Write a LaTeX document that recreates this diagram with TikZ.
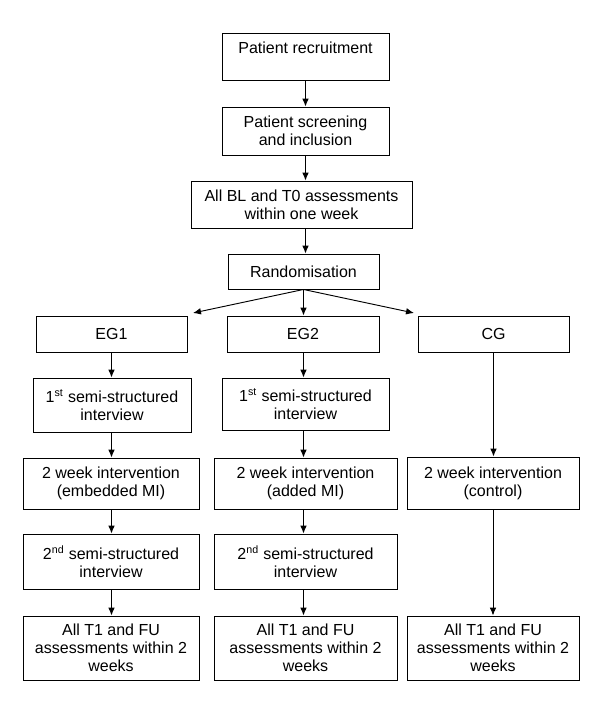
\documentclass[tikz,border=0pt]{standalone}
\usepackage{fontspec}
\setmainfont{Liberation Sans}
\usepackage{tikz}
\usetikzlibrary{arrows.meta}

\tikzset{
  box/.style 2 args={draw, line width=0.7pt, align=center, inner sep=2pt,
    font=\fontsize{12}{13.5}\selectfont,
    minimum width=#1*0.75pt, minimum height=#2*0.75pt},
  flow/.style={->, line width=0.7pt}
}

\begin{document}
\begin{tikzpicture}[x=0.75pt, y=-0.75pt, >={Latex[length=6pt,width=5pt]}]
    \useasboundingbox (0,0) rectangle (600,704);
    % top chain
    \node[box={167}{47}] (recruit) at (305.5,56.5) {Patient recruitment\\\mbox{}};
    \node[box={167}{48}] (screen) at (305.5,131) {Patient screening\\and inclusion};
    \node[box={221}{47}] (bl) at (301.5,204.5) {All BL and T0 assessments\\within one week};
    \node[box={151}{35}] (rand) at (303.5,271.5) {Randomisation};
    % groups
    \node[box={151}{36}] (eg1) at (111.5,334) {EG1};
    \node[box={152}{36}] (eg2) at (303,334) {EG2};
    \node[box={151}{36}] (cg) at (493.5,334) {CG};
    \coordinate (tipeg1) at (193,313);
    \coordinate (tipcg) at (414,313);
    % interviews and interventions
    \node[box={158}{54}] (intva) at (112,405) {1\textsuperscript{st} semi-structured\\interview};
    \node[box={167}{52}] (intvb) at (305.5,404) {1\textsuperscript{st} semi-structured\\interview};
    \node[box={176}{51}] (weeka) at (111,483.5) {2 week intervention\\(embedded MI)};
    \node[box={183}{51}] (weekb) at (305.5,483.5) {2 week intervention\\(added MI)};
    \node[box={172}{52}] (weekc) at (493,483) {2 week intervention\\(control)};
    \node[box={176}{55}] (intvc) at (111,561.5) {2\textsuperscript{nd} semi-structured\\interview};
    \node[box={183}{55}] (intvd) at (305.5,561.5) {2\textsuperscript{nd} semi-structured\\interview};
    % follow up
    \node[box={176}{64}] (fua) at (111,648) {All T1 and FU\\assessments within 2\\weeks};
    \node[box={183}{64}] (fub) at (305.5,648) {All T1 and FU\\assessments within 2\\weeks};
    \node[box={172}{64}] (fuc) at (493,648) {All T1 and FU\\assessments within 2\\weeks};

    \draw[flow] (recruit.south) -- (recruit.south |- screen.north);
    \draw[flow] (screen.south) -- (screen.south |- bl.north);
    \draw[flow] (screen.south |- bl.south) -- (screen.south |- rand.north);
    \draw[flow] (rand.south) -- (tipeg1);
    \draw[flow] (rand.south) -- (rand.south |- eg2.north);
    \draw[flow] (rand.south) -- (tipcg);

    \draw[flow] (eg1.south) -- (eg1.south |- intva.north);
    \draw[flow] (eg1.south |- intva.south) -- (eg1.south |- weeka.north);
    \draw[flow] (eg1.south |- weeka.south) -- (eg1.south |- intvc.north);
    \draw[flow] (eg1.south |- intvc.south) -- (eg1.south |- fua.north);

    \draw[flow] (rand.south |- eg2.south) -- (rand.south |- intvb.north);
    \draw[flow] (rand.south |- intvb.south) -- (rand.south |- weekb.north);
    \draw[flow] (rand.south |- weekb.south) -- (rand.south |- intvd.north);
    \draw[flow] (rand.south |- intvd.south) -- (rand.south |- fub.north);

    \draw[flow] (cg.south) -- (cg.south |- weekc.north);
    \draw[flow] (weekc.south) -- (weekc.south |- fuc.north);
\end{tikzpicture}
\end{document}
